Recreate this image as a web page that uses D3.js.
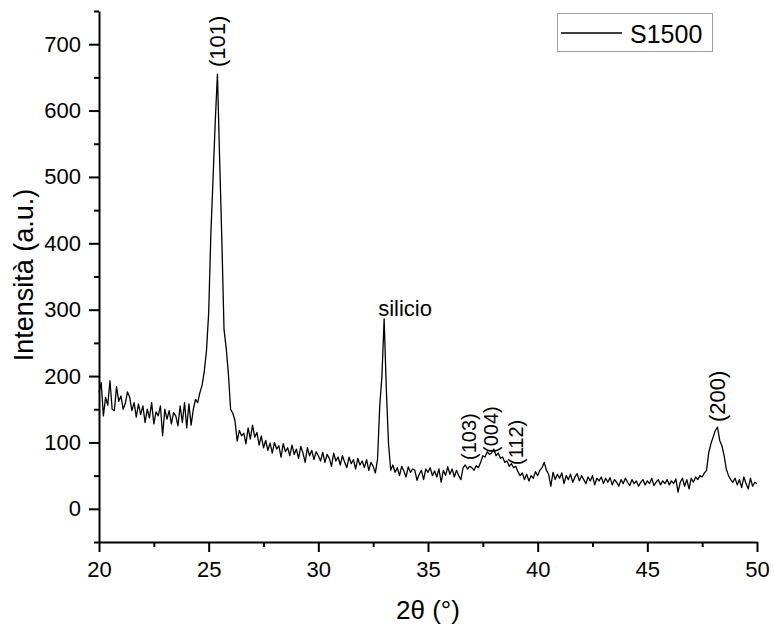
<!DOCTYPE html>
<html><head><meta charset="utf-8">
<script src="https://cdn.jsdelivr.net/npm/d3@7/dist/d3.min.js"></script>
<style>
html,body{margin:0;padding:0;background:#fff;}
text{font-family:"Liberation Sans",Arial,sans-serif;fill:#000;}
</style></head>
<body>
<svg id="chart" width="774" height="631"></svg>
<script>
// Scan grid (2θ, degrees)
const scanStart = 20.0, scanStep = 0.1;
// Intensity values, one per 0.1° step from 20.0 to 50.0
const intensity = [
 175,190,140,168,156,193,150,148,184,162,
 170,150,159,176,168,148,160,138,158,142,
 155,130,150,137,160,128,146,140,155,110,
 150,135,148,128,145,140,125,155,130,160,
 122,158,126,150,165,160,175,186,207,238,
 295,414,498,583,655,527,406,270,242,203,
 150,144,133,102,118,110,114,98,122,105,
 126,108,115,96,110,92,103,88,99,84,
 100,90,95,78,98,86,92,80,96,82,
 90,76,94,84,70,92,80,88,74,86,
 80,72,85,70,82,76,64,84,72,78,
 66,80,70,62,78,68,74,60,76,66,
 72,62,74,58,70,64,54,75,155,200,
 286,180,98,58,66,55,62,50,64,57,
 48,63,55,60,58,43,52,58,44,60,
 55,62,50,57,48,60,40,58,50,63,
 52,60,48,58,50,44,62,66,60,64,
 62,58,65,62,70,80,78,86,82,84,
 90,80,84,76,78,70,72,64,68,62,
 64,56,50,54,44,52,42,50,46,56,
 50,58,62,70,58,52,34,55,44,52,
 46,54,38,50,44,52,40,48,53,42,
 50,44,38,48,42,50,36,46,42,48,
 38,46,40,47,36,44,40,34,44,38,
 46,40,35,44,38,42,34,40,44,36,
 42,38,46,35,40,44,36,42,38,44,
 36,42,38,45,25,40,46,34,44,30,
 46,40,48,44,50,48,54,58,85,98,
 108,118,123,103,95,80,60,50,44,40,
 46,36,44,32,48,38,30,46,34,40,
 38
];
const xMajorTicks = [20,25,30,35,40,45,50];
const xMinorTicks = [22.5,27.5,32.5,37.5,42.5,47.5];
const yMajorTicks = [0,100,200,300,400,500,600,700];
const yMinorTicks = [-50,50,150,250,350,450,550,650,750];
const peakLabels = ["(101)","(103)","(004)","(112)","(200)"];
const peakAngles = [25.4,36.9,37.9,39.0,48.2];
const siliconLabel = "silicio";
const siliconAngle = 33.0;
const seriesName = "S1500";
const xTitle = "2θ (°)";
const yTitle = "Intensità (a.u.)";

const data = intensity.map((v,i)=>({t: +(scanStart + i*scanStep).toFixed(2), v}));

const svg = d3.select("#chart");
const x = d3.scaleLinear().domain([20,50]).range([99,757]);
const y = d3.scaleLinear().domain([-50,750]).range([542,11]);

// line
svg.append("path").datum(data)
  .attr("fill","none").attr("stroke","#000").attr("stroke-width",1.3)
  .attr("stroke-linejoin","round")
  .attr("d", d3.line().x(d=>x(d.t)).y(d=>y(d.v)));

// axes
function styleAxis(g){
  g.selectAll("path.domain").attr("stroke","#000").attr("stroke-width",2);
  g.selectAll(".tick line").attr("stroke","#000").attr("stroke-width",2);
  g.selectAll(".tick text").style("font-size","22px").attr("fill","#000");
}
const gx = svg.append("g").attr("transform","translate(0,542)")
  .call(d3.axisBottom(x).tickValues(xMajorTicks).tickSize(10).tickSizeOuter(0).tickPadding(9).tickFormat(d3.format("d")));
styleAxis(gx);
const gxm = svg.append("g").attr("transform","translate(0,542)")
  .call(d3.axisBottom(x).tickValues(xMinorTicks).tickSize(5).tickSizeOuter(0).tickFormat(""));
styleAxis(gxm); gxm.select("path.domain").remove();

const gy = svg.append("g").attr("transform","translate(99,0)")
  .call(d3.axisLeft(y).tickValues(yMajorTicks).tickSize(10).tickSizeOuter(0).tickPadding(8).tickFormat(d3.format("d")));
styleAxis(gy);
const gym = svg.append("g").attr("transform","translate(99,0)")
  .call(d3.axisLeft(y).tickValues(yMinorTicks).tickSize(5).tickSizeOuter(0).tickFormat(""));
styleAxis(gym); gym.select("path.domain").remove();
svg.selectAll(".domain").attr("d", function(){ return d3.select(this).attr("d"); });

// axis titles
svg.append("text").attr("x", 428).attr("y", 619).attr("text-anchor","middle")
  .style("font-size","26px").text(xTitle);
svg.append("text").attr("transform","translate(33,275) rotate(-90)").attr("text-anchor","middle")
  .style("font-size","27px").text(yTitle);

// peak labels (rotated)
const peakSize = [22,20,20,20,22];
const peakBase = [67,460,453,465,422];
const peakDx = [0,-1,-1,0,0];
peakLabels.forEach((lab,i)=>{
  const px = x(peakAngles[i]) + peakDx[i];
  svg.append("text")
    .attr("transform",`translate(${px},${peakBase[i]}) rotate(-90)`)
    .attr("dy","0.35em").attr("text-anchor","start")
    .style("font-size", peakSize[i]+"px").text(lab);
});
svg.append("text").attr("x", x(siliconAngle)-6).attr("y", 316).attr("text-anchor","start")
  .style("font-size","22px").text(siliconLabel);

// legend
const lg = svg.append("g");
lg.append("rect").attr("x",557.5).attr("y",13.5).attr("width",155).attr("height",38)
  .attr("fill","#fff").attr("stroke","#a0a0a0").attr("stroke-width",1);
lg.append("line").attr("x1",561).attr("x2",622).attr("y1",33).attr("y2",33)
  .attr("stroke","#000").attr("stroke-width",1.3);
lg.append("text").attr("x",630).attr("y",43).style("font-size","25px").text(seriesName);
</script>
</body></html>
